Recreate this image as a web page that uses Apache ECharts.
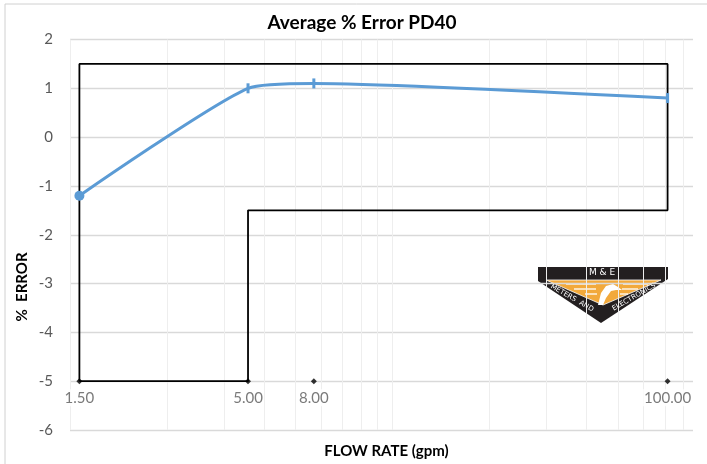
<!DOCTYPE html>
<html><head><meta charset="utf-8">
<script src="https://cdn.jsdelivr.net/npm/echarts@6/dist/echarts.min.js"></script>
<style>html,body{margin:0;padding:0;background:#fff}#c{width:707px;height:464px}</style>
</head><body><div id="c"></div>
<script>
// ---- data ----
const flowRates = [1.5, 5, 8, 100];
const avgError = [-1.2, 1.0, 1.1, 0.8];
const envelopeX = [1.5, 1.5, 100, 100, 5, 5, 1.5];
const envelopeY = [-5, 1.5, 1.5, -1.5, -1.5, -5, -5];
const labelRowY = -5;
const yTicks = { min: -6, max: 2, interval: 1 };
const minorGridValues = [1,2,3,4,5,6,7,8,9,10,20,30,40,50,60,70,80];

const FONT = 'Lato, "Open Sans", sans-serif';
const chart = echarts.init(document.getElementById('c'), null, {renderer: 'canvas'});

const blueData = flowRates.map((x, i) => ({
  value: [x, avgError[i]],
  symbol: i === 0 ? 'circle' : 'rect',
  symbolSize: i === 0 ? 10 : [3, 10]
}));

const logoFont = '"DejaVu Sans", sans-serif';
chart.setOption({
  animation: false,
  grid: { left: 70, right: 14, top: 39.5, bottom: 32 },
  xAxis: [
    { type: 'log', min: 1.4026, max: 119.9, logBase: 10,
      axisLine: {show: false}, axisTick: {show: false}, axisLabel: {show: false},
      splitLine: {show: false},
      name: 'FLOW RATE (gpm)', nameLocation: 'middle', nameGap: 14,
      nameTextStyle: {fontFamily: FONT, fontWeight: 'bold', fontSize: 15, color: '#000', padding: [0,0,0,10]} },
    { type: 'log', min: 1, max: 85.5, show: false, splitLine: {show: false} }
  ],
  yAxis: {
    type: 'value', min: yTicks.min, max: yTicks.max, interval: yTicks.interval,
    axisLine: {show: false}, axisTick: {show: false},
    axisLabel: {fontFamily: FONT, fontSize: 15, color: '#595959', margin: 17},
    splitLine: {lineStyle: {color: '#d9d9d9', width: 1.3}}
  },
  graphic: [
    { type: 'rect', shape: {x: 5, y: 4, width: 720, height: 480}, style: {fill: 'none', stroke: '#d0d0d0', lineWidth: 1}, silent: true },
    { type: 'text', x: 362, y: 23, style: {text: 'Average % Error PD40', font: 'bold 19px Lato, sans-serif', fill: '#000', textAlign: 'center', textVerticalAlign: 'middle'} },
    { type: 'text', x: 22, y: 287, rotation: Math.PI / 2, style: {text: '%  ERROR', font: 'bold 15px Lato, sans-serif', fill: '#000', textAlign: 'center', textVerticalAlign: 'middle'} },
    { type: 'group', z: 10, children: [
      { type: 'polygon', shape: {points: [[538,267],[668,267],[668,279],[601,323],[538,281]]}, style: {fill: '#231f20'} },
      { type: 'polygon', shape: {points: [[546,280],[661,280],[603,305]]}, style: {fill: '#f2a93b', stroke: '#fff', lineWidth: 0.8} },
      { type: 'polyline', shape: {points: [[566,284],[596,284]]}, style: {stroke: '#fff', lineWidth: 1.3} },
      { type: 'polyline', shape: {points: [[574,289],[596,289]]}, style: {stroke: '#fff', lineWidth: 1.3} },
      { type: 'polyline', shape: {points: [[585,294],[597,294]]}, style: {stroke: '#fff', lineWidth: 1.3} },
      { type: 'polyline', shape: {points: [[623,284],[648,284]]}, style: {stroke: '#fff', lineWidth: 1.3} },
      { type: 'polyline', shape: {points: [[622,289],[638,289]]}, style: {stroke: '#fff', lineWidth: 1.3} },
      { type: 'polyline', shape: {points: [[620,294],[628,294]]}, style: {stroke: '#fff', lineWidth: 1.3} },
      { type: 'polygon', shape: {points: [[598,305],[601,293],[606,286],[613,284],[618,287],[622,290],[616,290],[611,291],[606,298],[603,305]]}, style: {fill: '#fff'} },
      { type: 'text', x: 602, y: 273, style: {text: 'M & E', font: '9px ' + logoFont, fill: '#fff', textAlign: 'center', textVerticalAlign: 'middle'} },
      { type: 'text', x: 572, y: 298, rotation: -0.52, style: {text: 'METERS  AND', font: '7px ' + logoFont, fill: '#fff', textAlign: 'center', textVerticalAlign: 'middle'} },
      { type: 'text', x: 634, y: 297, rotation: 0.52, style: {text: 'ELECTRONICS', font: '7px ' + logoFont, fill: '#fff', textAlign: 'center', textVerticalAlign: 'middle'} }
    ]}
  ],
  series: [
    { type: 'line', xAxisIndex: 1, data: [], silent: true, z: 1,
      markLine: { silent: true, symbol: 'none', label: {show: false}, z: 1,
        lineStyle: {color: '#eeeeee', width: 1, type: 'solid'},
        data: minorGridValues.map(v => ({xAxis: v})) } },
    { type: 'line', name: 'envelope', xAxisIndex: 0, data: envelopeX.map((x, i) => [x, envelopeY[i]]),
      symbol: 'none', lineStyle: {color: '#000', width: 1.8}, z: 3 },
    { type: 'scatter', name: 'labels', xAxisIndex: 0, data: flowRates.map(x => [x, labelRowY]),
      symbol: 'diamond', symbolSize: 6, itemStyle: {color: '#000'}, z: 6,
      label: {show: true, position: 'bottom', distance: 5, fontFamily: FONT, fontSize: 15, color: '#595959',
        backgroundColor: '#fff', padding: [1, 1],
        formatter: p => p.value[0].toFixed(2)} },
    { type: 'line', name: 'Average % Error', xAxisIndex: 0, data: blueData, smooth: 0.2,
      lineStyle: {color: '#5b9bd5', width: 3}, itemStyle: {color: '#5b9bd5'}, z: 5 }
  ]
});
</script></body></html>
